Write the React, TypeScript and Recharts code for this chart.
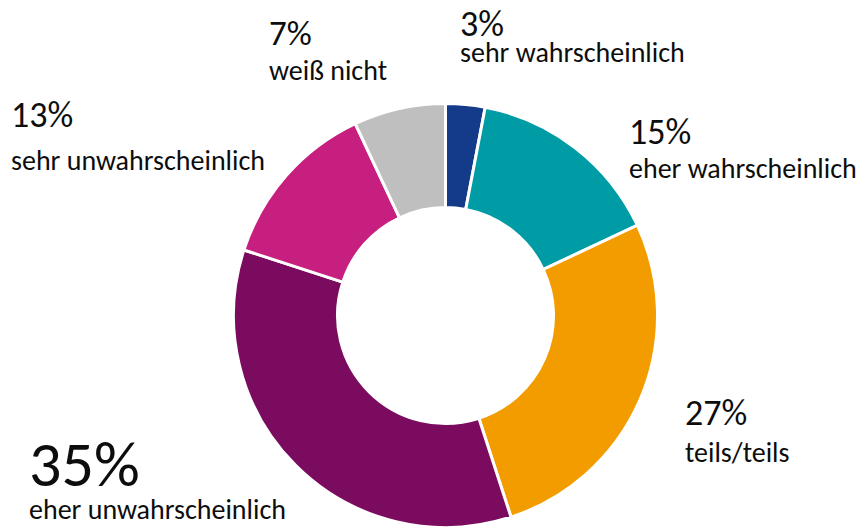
import { PieChart, Pie, Cell } from 'recharts'

const CATEGORIES = [
  'sehr wahrscheinlich',
  'eher wahrscheinlich',
  'teils/teils',
  'eher unwahrscheinlich',
  'sehr unwahrscheinlich',
  'weiß nicht',
]
const SHARES = [3, 15, 27, 35, 13, 7]
const COLORS = ['#143a8a', '#009ca6', '#f39c00', '#7a0b5e', '#c71f7f', '#bfbfbf']

// hand placed label anchors (left x, baseline of the percent, baseline of the text, percent size)
const LABEL_POS = [
  { x: 460, y1: 36, y2: 62, size: 36 },
  { x: 629, y1: 144, y2: 178, size: 36 },
  { x: 685, y1: 425, y2: 462, size: 36 },
  { x: 29, y1: 486, y2: 519, size: 64 },
  { x: 11, y1: 127, y2: 170, size: 36 },
  { x: 269, y1: 45, y2: 80, size: 35 },
]

const data = CATEGORIES.map((name, i) => ({ name, value: SHARES[i] }))

const FONT = 'Carlito, Calibri, Lato, sans-serif'

function renderLabel(props: any) {
  const pos = LABEL_POS[props.index]
  if (!pos) return null
  return (
    <g>
      <text x={pos.x} y={pos.y1} fontSize={pos.size} fill="#0d0d0d" fontFamily={FONT}>
        {`${props.value}%`}
      </text>
      <text x={pos.x} y={pos.y2} fontSize={28} fill="#0d0d0d" fontFamily={FONT}>
        {props.name}
      </text>
    </g>
  )
}

export default function App() {
  return (
    <div style={{ position: 'absolute', left: 0, top: 0, width: 860, height: 527, background: '#fff' }}>
      <PieChart width={860} height={527} margin={{ top: 0, right: 0, bottom: 0, left: 0 }}>
        <Pie
          data={data}
          dataKey="value"
          nameKey="name"
          cx={445.5}
          cy={315.5}
          innerRadius={108}
          outerRadius={212}
          startAngle={90}
          endAngle={-270}
          stroke="#ffffff"
          strokeWidth={3}
          label={renderLabel}
          labelLine={false}
          isAnimationActive={false}
        >
          {data.map((d, i) => (
            <Cell key={d.name} fill={COLORS[i]} />
          ))}
        </Pie>
      </PieChart>
    </div>
  )
}
